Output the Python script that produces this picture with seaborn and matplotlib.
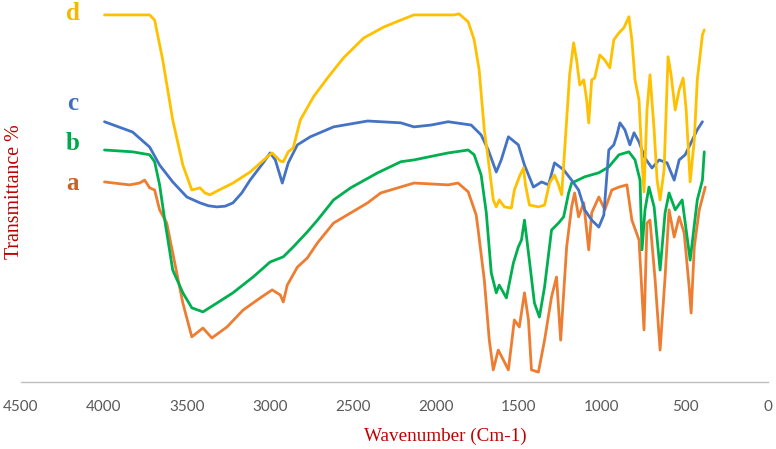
import numpy as np
import pandas as pd
import matplotlib
matplotlib.use("Agg")
import matplotlib.pyplot as plt
import seaborn as sns

# CONFIG
OUT_FILE   = "out.png"
FIG_SIZE   = (7.76, 4.49)
DPI        = 100
RED        = "#C00000"
TICK_GREY  = "#595959"

# ── DATA (transmittance in arbitrary %) ───────────────────────────────────────

wn_a = [3997, 3846, 3786, 3755, 3725, 3695, 3665, 3622, 3586, 3525, 3471, 3404,
        3350, 3259, 3162, 3059, 2987, 2938, 2920, 2896, 2835, 2775, 2714, 2617,
        2412, 2333, 2133, 1927, 1867, 1806, 1758, 1746, 1709, 1679, 1655, 1625,
        1594, 1564, 1528, 1498, 1467, 1443, 1425, 1383, 1346, 1304, 1274, 1249,
        1213, 1183, 1165, 1141, 1110, 1080, 1062, 1019, 983, 941, 898, 850,
        820, 777, 747, 729, 711, 680, 650, 620, 596, 565, 535, 505,
        475, 463, 444, 414, 378]
t_a = [54.5, 53.7, 54.2, 55.0, 52.9, 52.3, 46.9, 43.3, 35.2, 21.5, 12.3, 14.7,
       12.0, 15.0, 19.6, 22.9, 25.1, 23.7, 21.8, 26.4, 31.3, 33.8, 37.9, 43.3,
       48.8, 51.5, 54.2, 53.7, 54.2, 51.8, 45.5, 41.4, 27.8, 11.4, 3.3, 8.7,
       6.0, 3.3, 16.9, 15.0, 24.3, 16.9, 3.3, 2.7, 11.4, 23.2, 28.6, 11.4,
       36.8, 47.7, 51.5, 45.0, 48.8, 36.0, 46.1, 50.4, 46.9, 52.3, 53.1, 53.7,
       44.1, 38.7, 14.2, 43.3, 44.1, 27.8, 8.7, 28.6, 46.9, 39.5, 45.0, 40.6,
       25.9, 18.8, 36.8, 46.9, 53.1]

wn_b = [3997, 3828, 3725, 3695, 3665, 3634, 3586, 3525, 3471, 3404, 3320, 3223,
        3102, 2999, 2920, 2860, 2775, 2714, 2617, 2514, 2351, 2212, 2133, 1927,
        1806, 1770, 1728, 1697, 1667, 1637, 1619, 1576, 1534, 1504, 1485, 1467,
        1443, 1407, 1377, 1346, 1304, 1262, 1231, 1201, 1183, 1104, 1019, 959,
        898, 838, 801, 771, 759, 741, 717, 686, 650, 620, 596, 559,
        517, 469, 426, 395, 384]
t_b = [63.2, 62.7, 61.9, 60.0, 53.7, 44.1, 30.5, 24.3, 20.2, 19.1, 21.5, 24.3,
       28.6, 32.7, 34.1, 36.8, 40.9, 44.1, 49.6, 52.9, 57.0, 60.0, 60.5, 62.4,
       63.2, 61.9, 56.4, 46.1, 29.7, 24.3, 26.4, 22.9, 32.4, 36.8, 38.7, 44.1,
       35.2, 21.5, 17.7, 25.9, 41.4, 43.3, 45.0, 51.5, 54.2, 55.9, 57.0, 58.6,
       61.9, 62.7, 60.5, 55.0, 36.0, 46.9, 53.1, 47.7, 30.5, 46.1, 51.5, 46.9,
       49.6, 33.2, 49.6, 55.0, 62.7]

wn_c = [3997, 3828, 3725, 3665, 3586, 3501, 3422, 3370, 3320, 3270, 3223, 3170,
        3120, 3041, 2999, 2968, 2926, 2890, 2835, 2757, 2617, 2412, 2212, 2133,
        2030, 1927, 1788, 1728, 1685, 1637, 1607, 1564, 1504, 1467, 1413, 1364,
        1322, 1286, 1231, 1183, 1141, 1104, 1062, 1019, 989, 959, 929, 910,
        892, 862, 832, 807, 777, 741, 699, 656, 608, 565, 535, 499,
        456, 426, 395]
t_c = [70.9, 68.1, 64.0, 59.1, 54.5, 50.4, 48.8, 48.0, 47.7, 47.9, 48.8, 51.5,
       55.0, 59.7, 62.4, 60.5, 54.2, 59.7, 64.6, 66.8, 69.5, 71.1, 70.6, 69.5,
       70.0, 70.9, 70.0, 67.3, 63.2, 57.2, 60.5, 66.8, 64.6, 59.1, 53.1, 54.5,
       53.7, 59.7, 57.8, 55.0, 52.3, 46.9, 44.1, 42.2, 45.5, 63.2, 64.6, 67.3,
       70.6, 68.7, 64.6, 67.9, 65.4, 61.0, 58.3, 60.5, 59.7, 55.0, 60.5, 61.9,
       65.9, 68.7, 70.9]

wn_d = [3997, 3725, 3695, 3646, 3586, 3525, 3471, 3422, 3392, 3362, 3320, 3223,
        3120, 3017, 2987, 2938, 2920, 2890, 2860, 2817, 2738, 2654, 2557, 2436,
        2315, 2212, 2133, 1891, 1861, 1806, 1770, 1740, 1709, 1685, 1655, 1637,
        1619, 1588, 1546, 1528, 1498, 1473, 1461, 1437, 1383, 1346, 1316, 1286,
        1262, 1243, 1225, 1195, 1171, 1153, 1134, 1110, 1092, 1080, 1062, 1044,
        1013, 983, 953, 929, 898, 868, 838, 820, 801, 777, 759, 747,
        729, 711, 686, 668, 650, 626, 602, 584, 559, 535, 511, 493,
        469, 444, 426, 395, 384]
t_d = [100.0, 100.0, 98.6, 87.7, 71.4, 59.1, 52.3, 52.9, 51.5, 51.0, 52.0, 54.2,
       57.2, 61.3, 62.4, 60.2, 60.0, 62.7, 63.8, 71.4, 77.7, 82.8, 88.3, 93.7,
       96.7, 98.6, 100.0, 100.0, 100.3, 98.1, 93.2, 85.0, 68.7, 60.5, 49.6, 47.7,
       49.6, 47.7, 47.4, 52.3, 55.9, 58.3, 53.7, 48.2, 47.7, 48.2, 54.2, 56.4,
       53.7, 51.0, 63.2, 83.7, 92.4, 87.7, 80.9, 82.3, 76.8, 70.6, 82.3, 82.8,
       89.1, 87.7, 85.6, 93.2, 95.1, 96.5, 99.5, 93.2, 82.3, 76.8, 60.5, 51.8,
       74.1, 83.7, 68.7, 55.0, 49.6, 57.8, 88.6, 83.7, 74.1, 79.6, 82.8, 74.1,
       54.5, 65.9, 82.3, 94.6, 95.9]

SAMPLES      = ["a", "b", "c", "d"]
LINE_COLORS  = {"a": "#ED7D31", "b": "#00B050", "c": "#4472C4", "d": "#FFC000"}
LABEL_COLORS = {"a": "#C8642A", "b": "#00A84B", "c": "#3F6EBF", "d": "#F5B800"}
LABEL_X      = 4190
LABEL_Y      = {"a": 54.2, "b": 65.1, "c": 76.0, "d": 100.5}
X_TICKS      = [4500, 4000, 3500, 3000, 2500, 2000, 1500, 1000, 500, 0]


def build_frame():
    parts = []
    for name, wn, t in [("a", wn_a, t_a), ("b", wn_b, t_b),
                        ("c", wn_c, t_c), ("d", wn_d, t_d)]:
        parts.append(pd.DataFrame({"wavenumber": wn, "T": t, "sample": name}))
    return pd.concat(parts, ignore_index=True)


def plot_spectra(df):
    sns.set_style("white")
    fig = plt.figure(figsize=FIG_SIZE, dpi=DPI)
    ax = fig.add_axes([21 / 776, 67 / 449, 747 / 776, 377 / 449])

    sns.lineplot(data=df, x="wavenumber", y="T", hue="sample",
                 hue_order=SAMPLES, palette=LINE_COLORS, estimator=None,
                 sort=False, linewidth=2.0, legend=False, ax=ax)

    ax.set_xlim(4500, 0)
    ax.set_ylim(0, 102.7)
    ax.set_xticks(X_TICKS)
    ax.set_xticklabels([str(v) for v in X_TICKS], family="Lato",
                       fontsize=11, color=TICK_GREY)
    ax.set_yticks([])
    ax.tick_params(axis="x", length=0, pad=13)
    ax.set_xlabel(""); ax.set_ylabel("")
    for side in ["top", "right", "left"]:
        ax.spines[side].set_visible(False)
    ax.spines["bottom"].set_color("#BFBFBF")
    ax.spines["bottom"].set_linewidth(1.0)

    for s in SAMPLES:
        ax.text(LABEL_X, LABEL_Y[s], s, color=LABEL_COLORS[s],
                family="Liberation Serif", fontweight="bold", fontsize=18,
                ha="center", va="center")

    fig.text(445 / 776, 13 / 449, "Wavenumber (Cm-1)", color=RED,
             family="Liberation Serif", fontsize=13.8, ha="center", va="center")
    fig.text(15 / 776, 1 - 192 / 449, "Transmittance %", color=RED,
             family="Liberation Serif", fontsize=14.3, rotation=90,
             ha="center", va="center")

    fig.savefig(OUT_FILE, dpi=DPI)
    plt.close(fig)


if __name__ == "__main__":
    plot_spectra(build_frame())
